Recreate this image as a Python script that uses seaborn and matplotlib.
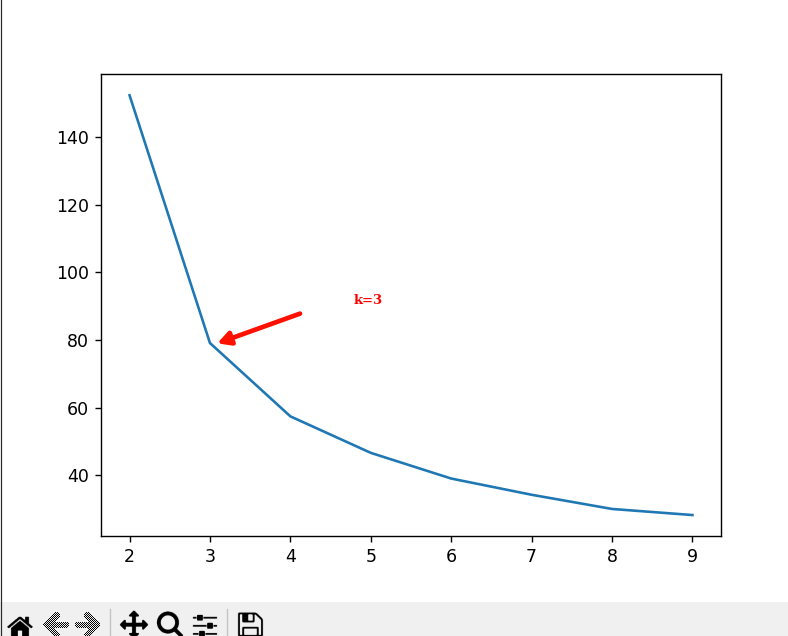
import os
import numpy as np
import pandas as pd
import matplotlib as mpl
mpl.use("Agg")
import matplotlib.pyplot as plt
import seaborn as sns

# Elbow curve values
k_values = [2, 3, 4, 5, 6, 7, 8, 9]
sse_values = [152.4, 79.1, 57.4, 46.6, 39.0, 34.2, 30.0, 28.2]
note_text = "k=3"

W, H = 788, 636
DPI = 125


def px_axes(fig, left, top, right, bottom):
    # axes placed by screen pixels, y counted from the top
    return fig.add_axes([left / W, 1 - bottom / H, (right - left) / W, (bottom - top) / H])


fig = plt.figure(figsize=(W / DPI, H / DPI), dpi=DPI, facecolor="white")

# Main plot
ax = px_axes(fig, 101, 74, 721, 536)
df = pd.DataFrame({"k": k_values, "sse": sse_values})
sns.lineplot(data=df, x="k", y="sse", ax=ax, color="#1f77b4", linewidth=1.5)
ax.set_xlabel("")
ax.set_ylabel("")
ax.set_ylim(22, 158.7)
ax.set_xlim(1.645, 9.355)

# Arrow and label
ax.annotate("", xy=(3.09, 79.0), xytext=(4.12, 87.8),
            arrowprops=dict(arrowstyle="-|>,head_length=0.6,head_width=0.32", lw=2.7, color="#ff1000",
                            capstyle="round", shrinkA=0, shrinkB=0))
ax.text(4.79, 91.8, note_text, color="red", family="DejaVu Serif", weight="bold", fontsize=7.6, va="center")

# Toolbar strip
bar = px_axes(fig, 0, 602, W, H)
bar.set_xlim(0, W)
bar.set_ylim(H, 602)
bar.axis("off")
bar.add_patch(plt.Rectangle((0, 602), W, 34, color="#f0f0f0", lw=0))
for sep_x in [110.5, 227.5]:
    bar.plot([sep_x, sep_x], [609, 636], color="#c4c4c4", lw=0.8)

# Left window edge
fig.add_artist(plt.Line2D([0.6 / W, 0.6 / W], [0, 1], color="#2a2a2a", lw=0.7))

# Toolbar icons from matplotlib's own images
icon_dir = os.path.join(mpl.get_data_path(), "images")
icons = [("home", 5, 30, False), ("back", 39, 32, True), ("forward", 72, 32, True),
         ("move", 119, 30, False), ("zoom_to_rect", 155, 30, False),
         ("subplots", 190, 30, False), ("filesave", 235, 30, False)]
for name, x0, size, disabled in icons:
    img = plt.imread(os.path.join(icon_dir, name + "_large.png"))
    iax = px_axes(fig, x0, 608.5, x0 + size, 608.5 + size)
    iax.axis("off")
    if disabled:
        idx = (np.arange(size) * img.shape[0] / size).astype(int)
        small = img[idx][:, idx].copy()
        yy, xx = np.mgrid[:size, :size]
        small[..., 3] = (small[..., 3] > 0.2) * ((xx + yy) % 2 == 0)
        iax.imshow(small, interpolation="nearest")
    else:
        iax.imshow(img, interpolation="antialiased")

fig.savefig("out.png", dpi=DPI)
